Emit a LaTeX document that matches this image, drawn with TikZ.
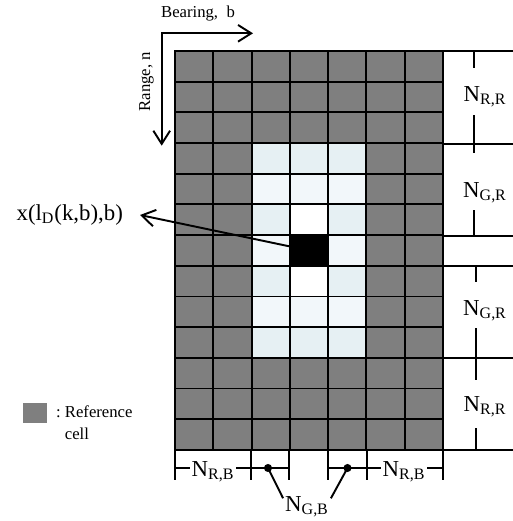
\documentclass[tikz,border=0pt]{standalone}
\usepackage{fontspec}
\setmainfont{Liberation Serif}
\usetikzlibrary{positioning,arrows.meta}
\definecolor{refgray}{HTML}{7F7F7F}
\definecolor{guarddk}{HTML}{E6F0F3}
\definecolor{guardlt}{HTML}{F2F7FA}

\begin{document}
\begin{tikzpicture}[
      x=0.02cm, y=-0.02cm,
      lbl/.style={inner sep=1pt,font=\fontsize{13}{15}\selectfont},
      small/.style={inner sep=1pt,font=\fontsize{9.5}{12.5}\selectfont},
      ln/.style={line width=1.1pt},
      arr/.style={ln,-{Straight Barb[length=7.5pt,width=9.5pt]}},
      arrs/.style={ln,{Straight Barb[length=7.5pt,width=9.5pt]}-{Straight Barb[length=7.5pt,width=9.5pt]}}
    ]
    \useasboundingbox (0,0) rectangle (513,521);
    % Cells: 7 bearings x 13 ranges
    \begin{scope}[shift={(175,51)},x=0.7658cm,y=-0.6138cm]
      \foreach \c in {0,...,6}
        \foreach \r in {0,...,12}
          \fill[refgray] (\c,\r) rectangle +(1,1);
      % guard cells
      \foreach \c in {2,3,4}
        \foreach \r in {3,...,9}{
          \ifodd\r\relax \def\gc{guarddk}\else\def\gc{guardlt}\fi
          \fill[\gc] (\c,\r) rectangle +(1,1);
        }
      \fill[white] (3,5) rectangle +(1,1);
      \fill[white] (3,7) rectangle +(1,1);
      \fill[black] (3,6) rectangle +(1,1);
      \foreach \c in {0,...,7} \draw[ln,line cap=rect] (\c,0) -- (\c,13);
      \foreach \r in {0,...,13} \draw[ln,line cap=rect] (0,\r) -- (7,\r);
      \coordinate (cut) at (3.5,6.5);
    \end{scope}
    % Axes
    \coordinate (org) at (161.7,33.3);
    \coordinate (btip) at (253,33.3);
    \coordinate (rtip) at (161.7,145.7);
    \draw[arrs] (rtip) -- (org) -- (btip);
    \node[small] (bear) at (198,14) {Bearing,\ \ b};
    \node[small,rotate=90] (rng) at (146.5,81.7) {Range, n};
    % Cell under test
    \coordinate (xtip) at (140,215);
    \node[lbl, left=0.3cm of xtip] (xlbl) {x(l\textsubscript{D}(k,b),b)};
    \draw[arr] (cut) -- (xtip);
    % Range extents
    \foreach \y in {51,144,236} \draw[ln] (443,\y) -- (513,\y);
    \foreach \y in {266,358,450} \draw[ln] (422,\y) -- (513,\y);
    \draw[ln] (474,51) -- (474,68) (474,115) -- (474,153) (474,210) -- (474,236);
    \draw[ln] (476,266) -- (476,282) (476,328) -- (476,380) (476,428) -- (476,450);
    \node[lbl] (nrr1) at (485,97) {N\textsubscript{R,R}};
    \node[lbl] (ngr1) at (485,193) {N\textsubscript{G,R}};
    \node[lbl] (ngr2) at (485,311) {N\textsubscript{G,R}};
    \node[lbl] (nrr2) at (485,407) {N\textsubscript{R,R}};
    % Bearing extents
    \foreach \x in {175,250.7,289.3,328,366.7,442.7} \draw[ln] (\x,450) -- (\x,480);
    \coordinate (b0) at (175,468);
    \coordinate (b2) at (250.7,468);
    \coordinate (b3) at (289.3,468);
    \coordinate (b4) at (328,468);
    \coordinate (b5) at (366.7,468);
    \coordinate (b7) at (442.7,468);
    \coordinate (dl) at (268,468);
    \coordinate (dr) at (347.5,468);
    \node[lbl] (nrb1) at (213,472) {N\textsubscript{R,B}};
    \node[lbl] (nrb2) at (404,472) {N\textsubscript{R,B}};
    \node[lbl] (ngb) at (307,507) {N\textsubscript{G,B}};
    \draw[ln] (b0) -- (b0 -| nrb1.west) (nrb1.east |- b2) -- (b2);
    \draw[ln] (b2) -- (b3);
    \draw[ln] (b4) -- (b5);
    \draw[ln] (b5) -- (b5 -| nrb2.west) (nrb2.east |- b7) -- (b7);
    \fill (dl) circle[radius=2.3pt];
    \fill (dr) circle[radius=2.3pt];
    \draw[ln] (dl) -- (ngb.160);
    \draw[ln] (dr) -- (ngb.20);
    % Legend
    \fill[refgray] (23,403) rectangle (47,423);
    \node[small,anchor=north west,align=left] (leg) at (54,404) {:~Reference\\\hphantom{:~}cell};
  \end{tikzpicture}
\end{document}
